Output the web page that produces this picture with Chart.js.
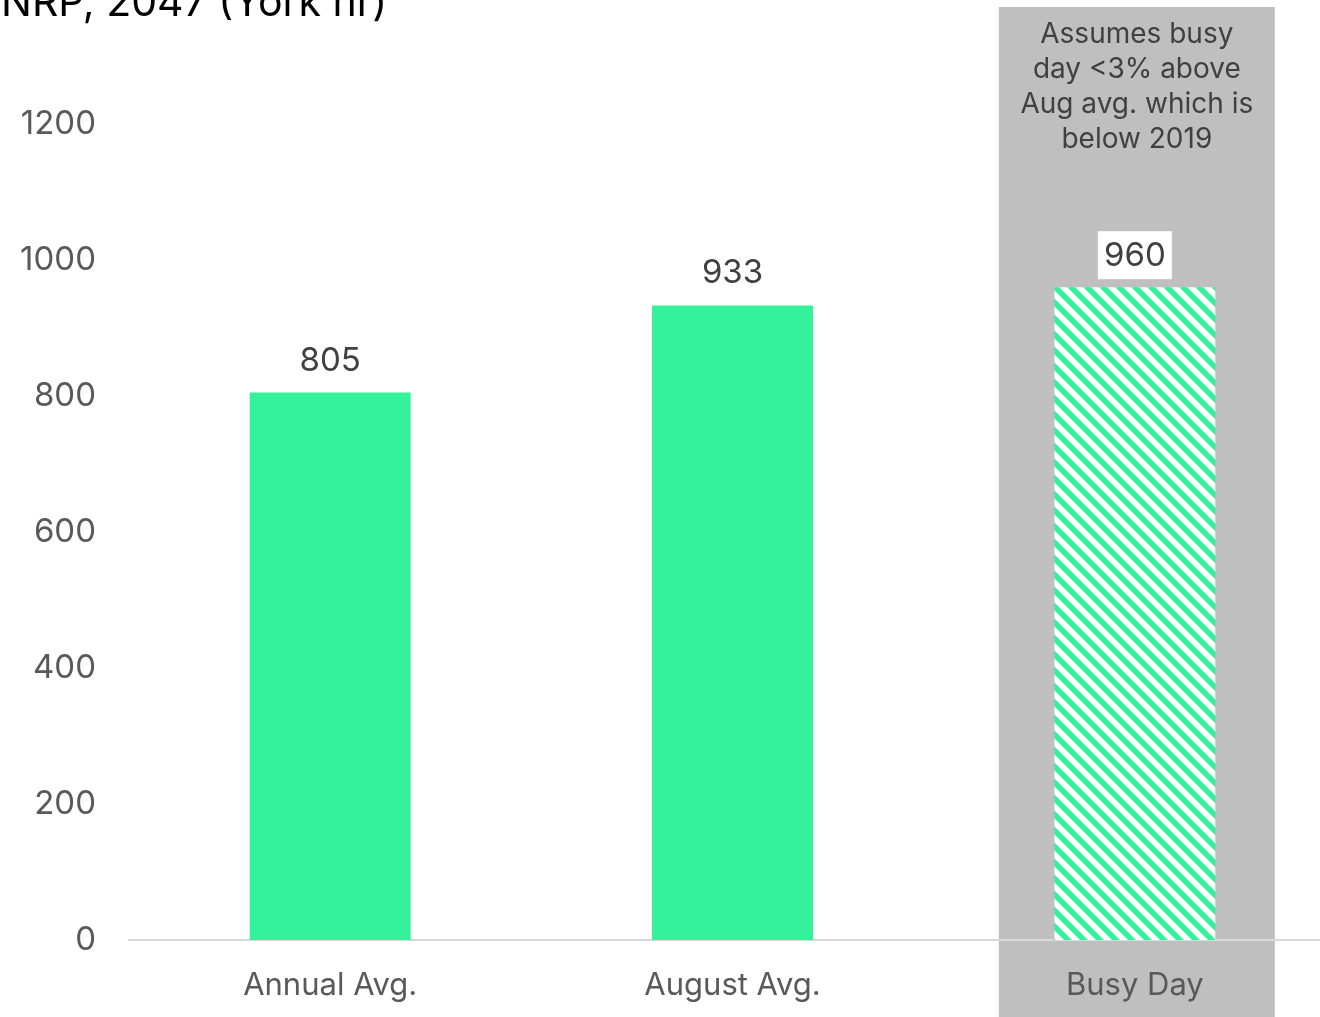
<!DOCTYPE html>
<html>
<head>
<meta charset="utf-8">
<script src="https://cdn.jsdelivr.net/npm/chart.js@4.4.1/dist/chart.umd.min.js"></script>
<style>
  html, body { margin: 0; padding: 0; background: #fff; overflow: hidden; }
  #wrap { width: 1336px; height: 1017px; }
</style>
</head>
<body>
<div id="wrap"><canvas id="busyChart" width="1336" height="1017"></canvas></div>
<script>
// chart data
const categories = ['Annual Avg.', 'August Avg.', 'Busy Day'];
const passengers = [805, 933, 960];
const yTicks = [0, 200, 400, 600, 800, 1000, 1200];
const chartTitle = 'NRP, 2047 (York hr)';
const noteLines = ['Assumes busy', 'day <3% above', 'Aug avg. which is', 'below 2019'];

const GREEN = '#33F29A';
const GREY_BOX = '#BFBFBF';
const FONT = 'Inter, "Open Sans", sans-serif';

// diagonal stripe fill for the busy day bar
function makeStripes() {
    const size = 16;
    const c = document.createElement('canvas');
    c.width = size;
    c.height = size;
    const g = c.getContext('2d');
    g.fillStyle = '#fff';
    g.fillRect(0, 0, size, size);
    g.strokeStyle = GREEN;
    g.lineWidth = 5.5;
    g.lineCap = 'square';
    for (let k = -1; k <= 1; k++) {
        g.beginPath();
        g.moveTo(k * size - 4, -4);
        g.lineTo(k * size + size + 4, size + 4);
        g.stroke();
    }
    return g.createPattern(c, 'repeat');
}

const extrasPlugin = {
    id: 'extras',
    beforeDraw(chart) {
        const ctx = chart.ctx;
        const cx = chart.scales.x.getPixelForValue(2);
        ctx.save();
        ctx.fillStyle = GREY_BOX;
        ctx.fillRect(cx - 136, 7, 276, chart.height - 7);
        ctx.restore();
    },
    afterDatasetsDraw(chart) {
        const ctx = chart.ctx;
        const meta = chart.getDatasetMeta(0);
        ctx.save();
        ctx.font = '33px ' + FONT;
        ctx.textAlign = 'center';
        ctx.textBaseline = 'middle';
        meta.data.forEach((bar, i) => {
            const txt = String(passengers[i]);
            if (i === 2) {
                const w = 74;
                ctx.fillStyle = '#fff';
                ctx.fillRect(bar.x - w / 2, bar.y - 56, w, 48);
                ctx.fillStyle = '#404040';
                ctx.fillText(txt, bar.x, bar.y - 31);
            } else {
                ctx.fillStyle = '#404040';
                ctx.fillText(txt, bar.x, bar.y - 32);
            }
        });

        // note inside the grey box
        const cx = chart.scales.x.getPixelForValue(2) + 2;
        ctx.font = '28px ' + FONT;
        ctx.fillStyle = '#404040';
        noteLines.forEach((line, i) => {
            ctx.fillText(line, cx, 35 + i * 35);
        });

        // title, cut at the top edge like the original
        ctx.font = '41px ' + FONT;
        ctx.textAlign = 'left';
        ctx.textBaseline = 'alphabetic';
        ctx.fillStyle = '#000';
        ctx.fillText(chartTitle, 1, 16);
        ctx.restore();
    }
};

const ctx = document.getElementById('busyChart').getContext('2d');
const stripes = makeStripes();

new Chart(ctx, {
    type: 'bar',
    data: {
        labels: categories,
        datasets: [{
            data: passengers,
            backgroundColor: [GREEN, GREEN, stripes],
            borderWidth: 0,
            barPercentage: 0.8,
            categoryPercentage: 0.5
        }]
    },
    options: {
        responsive: false,
        animation: false,
        layout: { padding: { top: 124, right: 0, left: 0, bottom: 0 } },
        plugins: {
            legend: { display: false },
            tooltip: { enabled: false }
        },
        scales: {
            y: {
                min: 0,
                max: 1200,
                afterFit: (s) => { s.width = 129; },
                afterBuildTicks: (s) => { s.ticks = yTicks.map(v => ({ value: v })); },
                grid: { display: false },
                border: { display: false },
                ticks: {
                    color: '#595959',
                    padding: 25,
                    font: { family: FONT, size: 33 },
                    callback: (v) => String(v)
                }
            },
            x: {
                afterFit: (s) => { s.height = 77; },
                grid: { display: false },
                border: { display: true, color: '#D9D9D9', width: 2 },
                ticks: {
                    color: '#595959',
                    padding: 19,
                    font: { family: FONT, size: 31 }
                }
            }
        }
    },
    plugins: [extrasPlugin]
});
</script>
</body>
</html>
